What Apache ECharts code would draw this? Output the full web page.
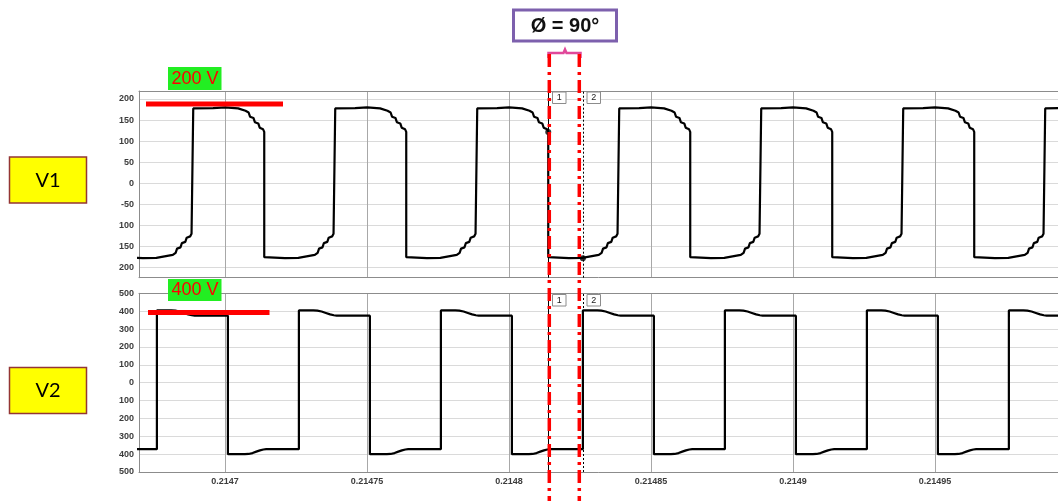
<!DOCTYPE html>
<html><head><meta charset="utf-8">
<script src="https://cdn.jsdelivr.net/npm/echarts@6/dist/echarts.min.js"></script>
<style>html,body{margin:0;padding:0;background:#fff}#c{width:1058px;height:501px}</style>
</head><body><div id="c"></div>
<script>
// time in microseconds
const xTickValues = [214700, 214750, 214800, 214850, 214900, 214950];
const xTickLabels = ['0.2147', '0.21475', '0.2148', '0.21485', '0.2149', '0.21495'];
const v1TickValues = [-200, -150, -100, -50, 0, 50, 100, 150, 200];
const v1TickLabels = ['200', '150', '100', '-50', '0', '50', '100', '150', '200'];
const v2TickValues = [-500, -400, -300, -200, -100, 0, 100, 200, 300, 400, 500];
const v2TickLabels = ['500', '400', '300', '200', '100', '0', '100', '200', '300', '400', '500'];
const cursorTimes = [214813.8, 214826.0];
const cursorV1 = [122, -177.7];

const v1Points = [
[214665.0,-176],[214671.1,-177.7],[214675.8,-177],[214681.6,-170],[214682.6,-165],[214683.1,-155],[214684.3,-152],[214684.8,-142],[214686.0,-139],[214686.5,-129],[214687.7,-126],[214688.2,-119.5],
[214688.8,-118.5],[214688.8,177.7],[214695.8,178.5],[214700.0,180],[214704.6,177.7],[214707.2,172],[214708.3,168],[214708.8,158],[214710.0,155],[214710.5,145],[214711.7,142],[214712.2,132],[214713.4,128],[214713.8,122],[214713.8,-175.4],[214721.1,-177.7],[214725.8,-177],[214731.6,-170],[214732.6,-165],[214733.1,-155],[214734.3,-152],[214734.8,-142],[214736.0,-139],[214736.5,-129],[214737.7,-126],[214738.2,-119.5],
[214738.8,-118.5],[214738.8,177.7],[214745.8,178.5],[214750.0,180],[214754.6,177.7],[214757.2,172],[214758.3,168],[214758.8,158],[214760.0,155],[214760.5,145],[214761.7,142],[214762.2,132],[214763.4,128],[214763.8,122],[214763.8,-175.4],[214771.1,-177.7],[214775.8,-177],[214781.6,-170],[214782.6,-165],[214783.1,-155],[214784.3,-152],[214784.8,-142],[214786.0,-139],[214786.5,-129],[214787.7,-126],[214788.2,-119.5],
[214788.8,-118.5],[214788.8,177.7],[214795.8,178.5],[214800.0,180],[214804.6,177.7],[214807.2,172],[214808.3,168],[214808.8,158],[214810.0,155],[214810.5,145],[214811.7,142],[214812.2,132],[214813.4,128],[214813.8,122],[214813.8,-175.4],[214821.1,-177.7],[214825.8,-177],[214831.6,-170],[214832.6,-165],[214833.1,-155],[214834.3,-152],[214834.8,-142],[214836.0,-139],[214836.5,-129],[214837.7,-126],[214838.2,-119.5],
[214838.8,-118.5],[214838.8,177.7],[214845.8,178.5],[214850.0,180],[214854.6,177.7],[214857.2,172],[214858.3,168],[214858.8,158],[214860.0,155],[214860.5,145],[214861.7,142],[214862.2,132],[214863.4,128],[214863.8,122],[214863.8,-175.4],[214871.1,-177.7],[214875.8,-177],[214881.6,-170],[214882.6,-165],[214883.1,-155],[214884.3,-152],[214884.8,-142],[214886.0,-139],[214886.5,-129],[214887.7,-126],[214888.2,-119.5],
[214888.8,-118.5],[214888.8,177.7],[214895.8,178.5],[214900.0,180],[214904.6,177.7],[214907.2,172],[214908.3,168],[214908.8,158],[214910.0,155],[214910.5,145],[214911.7,142],[214912.2,132],[214913.4,128],[214913.8,122],[214913.8,-175.4],[214921.1,-177.7],[214925.8,-177],[214931.6,-170],[214932.6,-165],[214933.1,-155],[214934.3,-152],[214934.8,-142],[214936.0,-139],[214936.5,-129],[214937.7,-126],[214938.2,-119.5],
[214938.8,-118.5],[214938.8,177.7],[214945.8,178.5],[214950.0,180],[214954.6,177.7],[214957.2,172],[214958.3,168],[214958.8,158],[214960.0,155],[214960.5,145],[214961.7,142],[214962.2,132],[214963.4,128],[214963.8,122],[214963.8,-175.4],[214971.1,-177.7],[214975.8,-177],[214981.6,-170],[214982.6,-165],[214983.1,-155],[214984.3,-152],[214984.8,-142],[214986.0,-139],[214986.5,-129],[214987.7,-126],[214988.2,-119.5],
[214988.8,-118.5],[214988.8,177.7],[214995.8,178.5],[215000.0,180],[215004.6,177.7]
];

const v2Points = [
[214665.0,-372],
[214676.0,-372],[214676.0,404],[214681.1,404],[214682.5,403],[214684.0,398],[214685.5,390],[214687.0,382],[214688.3,377],[214689.3,375],[214701.0,375],[214701.0,-400],[214707.0,-400],[214708.3,-399],[214709.7,-394],[214711.0,-386],[214712.3,-379],[214713.5,-374],[214714.5,-372],
[214726.0,-372],[214726.0,404],[214731.1,404],[214732.5,403],[214734.0,398],[214735.5,390],[214737.0,382],[214738.3,377],[214739.3,375],[214751.0,375],[214751.0,-400],[214757.0,-400],[214758.3,-399],[214759.7,-394],[214761.0,-386],[214762.3,-379],[214763.5,-374],[214764.5,-372],
[214776.0,-372],[214776.0,404],[214781.1,404],[214782.5,403],[214784.0,398],[214785.5,390],[214787.0,382],[214788.3,377],[214789.3,375],[214801.0,375],[214801.0,-400],[214807.0,-400],[214808.3,-399],[214809.7,-394],[214811.0,-386],[214812.3,-379],[214813.5,-374],[214814.5,-372],
[214826.0,-372],[214826.0,404],[214831.1,404],[214832.5,403],[214834.0,398],[214835.5,390],[214837.0,382],[214838.3,377],[214839.3,375],[214851.0,375],[214851.0,-400],[214857.0,-400],[214858.3,-399],[214859.7,-394],[214861.0,-386],[214862.3,-379],[214863.5,-374],[214864.5,-372],
[214876.0,-372],[214876.0,404],[214881.1,404],[214882.5,403],[214884.0,398],[214885.5,390],[214887.0,382],[214888.3,377],[214889.3,375],[214901.0,375],[214901.0,-400],[214907.0,-400],[214908.3,-399],[214909.7,-394],[214911.0,-386],[214912.3,-379],[214913.5,-374],[214914.5,-372],
[214926.0,-372],[214926.0,404],[214931.1,404],[214932.5,403],[214934.0,398],[214935.5,390],[214937.0,382],[214938.3,377],[214939.3,375],[214951.0,375],[214951.0,-400],[214957.0,-400],[214958.3,-399],[214959.7,-394],[214961.0,-386],[214962.3,-379],[214963.5,-374],[214964.5,-372],
[214976.0,-372],[214976.0,404],[214981.1,404],[214982.5,403],[214984.0,398],[214985.5,390],[214987.0,382],[214988.3,377],[214989.3,375],[215005.0,375]
];

function lab(values, labels) {
  return function (v) {
    for (let i = 0; i < values.length; i++) if (Math.abs(values[i] - v) < 1e-6) return labels[i];
    return '';
  };
}

const X_MIN = 214669.7, X_MAX = 214993.3;
const chart = echarts.init(document.getElementById('c'), null, { renderer: 'canvas' });
const axisFont = { fontSize: 9, color: '#3c3c3c', fontFamily: 'Liberation Sans, Arial, sans-serif', fontWeight: 'bold' };
const frameColor = '#8c8c8c';

const cursorMark = {
  symbol: ['none', 'none'], silent: true, animation: false,
  label: { show: false },
  data: [
    { xAxis: cursorTimes[0], lineStyle: { type: 'solid', color: '#000', width: 1 } },
    { xAxis: cursorTimes[1], lineStyle: { type: [2, 2], color: '#000', width: 1 } }
  ]
};

function boxLabel(x, y, t) {
  return [
    { type: 'rect', z: 50, shape: { x: x, y: y, width: 13.5, height: 11.5 }, style: { fill: '#fff', stroke: '#8c8c8c', lineWidth: 1 } },
    { type: 'text', z: 51, style: { x: x + 6.75, y: y + 6, text: t, align: 'center', verticalAlign: 'middle', font: '9px Liberation Sans, Arial, sans-serif', fill: '#222' } }
  ];
}

const graphics = [
  { type: 'rect', z: 50, shape: { x: 9.5, y: 157, width: 77, height: 46 }, style: { fill: '#ffff00', stroke: '#943634', lineWidth: 1.5 } },
  { type: 'text', z: 51, style: { x: 48, y: 181, text: 'V1', align: 'center', verticalAlign: 'middle', font: '20px Lato, Liberation Sans, sans-serif', fill: '#000' } },
  { type: 'rect', z: 50, shape: { x: 9.5, y: 367.5, width: 77, height: 46 }, style: { fill: '#ffff00', stroke: '#943634', lineWidth: 1.5 } },
  { type: 'text', z: 51, style: { x: 48, y: 391, text: 'V2', align: 'center', verticalAlign: 'middle', font: '20px Lato, Liberation Sans, sans-serif', fill: '#000' } },
  { type: 'rect', z: 50, shape: { x: 513.5, y: 10, width: 103, height: 31 }, style: { fill: '#fff', stroke: '#7d60ad', lineWidth: 3 } },
  { type: 'text', z: 51, style: { x: 565, y: 26, text: 'Ø = 90°', align: 'center', verticalAlign: 'middle', font: 'bold 20px Liberation Sans, Arial, sans-serif', fill: '#111' } },
  { type: 'polyline', z: 50, shape: { points: [[548.5, 58], [548.5, 53], [563.5, 53], [565, 49.5], [566.5, 53], [580.5, 53], [580.5, 58]] }, style: { stroke: '#e0489a', lineWidth: 2.5, fill: null } },
  { type: 'rect', z: 50, shape: { x: 168, y: 67, width: 53.5, height: 23 }, style: { fill: '#22ee22' } },
  { type: 'text', z: 51, style: { x: 195, y: 79, text: '200 V', align: 'center', verticalAlign: 'middle', font: '18px Liberation Sans, Arial, sans-serif', fill: '#ff0000' } },
  { type: 'rect', z: 50, shape: { x: 168, y: 279, width: 53.5, height: 22 }, style: { fill: '#22ee22' } },
  { type: 'text', z: 51, style: { x: 195, y: 290.5, text: '400 V', align: 'center', verticalAlign: 'middle', font: '18px Liberation Sans, Arial, sans-serif', fill: '#ff0000' } },
  { type: 'rect', z: 50, shape: { x: 146, y: 101.5, width: 137, height: 5 }, style: { fill: '#ff0000' } },
  { type: 'rect', z: 50, shape: { x: 148, y: 310, width: 121.5, height: 5 }, style: { fill: '#ff0000' } },
  { type: 'line', z: 60, shape: { x1: 549.3, y1: 54, x2: 549.3, y2: 501 }, style: { stroke: '#ff0000', lineWidth: 3.5, lineDash: [13, 5, 3, 5] } },
  { type: 'line', z: 60, shape: { x1: 579.3, y1: 54, x2: 579.3, y2: 501 }, style: { stroke: '#ff0000', lineWidth: 3.5, lineDash: [13, 5, 3, 5] } }
].concat(boxLabel(552.5, 92, '1'), boxLabel(587, 92, '2'), boxLabel(552.5, 294.5, '1'), boxLabel(587, 294.5, '2'));

const mainX = [0, 1].map(i => ({
  type: 'value', gridIndex: i, min: X_MIN, max: X_MAX, position: 'bottom',
  axisLine: { show: true, onZero: false, lineStyle: { color: frameColor, width: 1 } },
  axisTick: { show: false, customValues: xTickValues },
  axisLabel: Object.assign({ show: i === 1, customValues: xTickValues, formatter: lab(xTickValues, xTickLabels), margin: 5 }, axisFont),
  splitLine: { show: true, lineStyle: { color: '#a8a8a8', width: 1 } }
}));
const topX = [0, 1].map(i => ({
  type: 'value', gridIndex: i, min: X_MIN, max: X_MAX, position: 'top',
  axisLine: { show: true, onZero: false, lineStyle: { color: frameColor, width: 1 } },
  axisTick: { show: false }, axisLabel: { show: false }, splitLine: { show: false }
}));

chart.setOption({
  animation: false,
  grid: [
    { left: 139, top: 91, height: 186.7, right: 0, show: false },
    { left: 139, top: 293.3, height: 178.7, right: 0, show: false }
  ],
  xAxis: mainX.concat(topX),
  yAxis: [
    { type: 'value', gridIndex: 0, min: -224, max: 219,
      axisLine: { show: true, onZero: false, lineStyle: { color: frameColor } },
      axisTick: { show: false, customValues: v1TickValues },
      axisLabel: Object.assign({ customValues: v1TickValues, formatter: lab(v1TickValues, v1TickLabels), margin: 5 }, axisFont),
      splitLine: { show: true, lineStyle: { color: '#dadada', width: 1.2 } } },
    { type: 'value', gridIndex: 1, min: -500, max: 500,
      axisLine: { show: true, onZero: false, lineStyle: { color: frameColor } },
      axisTick: { show: false, customValues: v2TickValues },
      axisLabel: Object.assign({ customValues: v2TickValues, formatter: lab(v2TickValues, v2TickLabels), margin: 5 }, axisFont),
      splitLine: { show: true, lineStyle: { color: '#dadada', width: 1.2 } } }
  ],
  series: [
    { type: 'line', xAxisIndex: 0, yAxisIndex: 0, data: v1Points, symbol: 'none', clip: true,
      lineStyle: { color: '#000', width: 2.2 }, markLine: cursorMark },
    { type: 'line', xAxisIndex: 1, yAxisIndex: 1, data: v2Points, symbol: 'none', clip: true,
      lineStyle: { color: '#000', width: 2.2 }, markLine: cursorMark },
    { type: 'scatter', xAxisIndex: 0, yAxisIndex: 0, data: cursorTimes.map((t, i) => [t, cursorV1[i]]),
      symbolSize: 6, itemStyle: { color: '#000' }, z: 5 }
  ],
  graphic: graphics
});
</script>
</body></html>
